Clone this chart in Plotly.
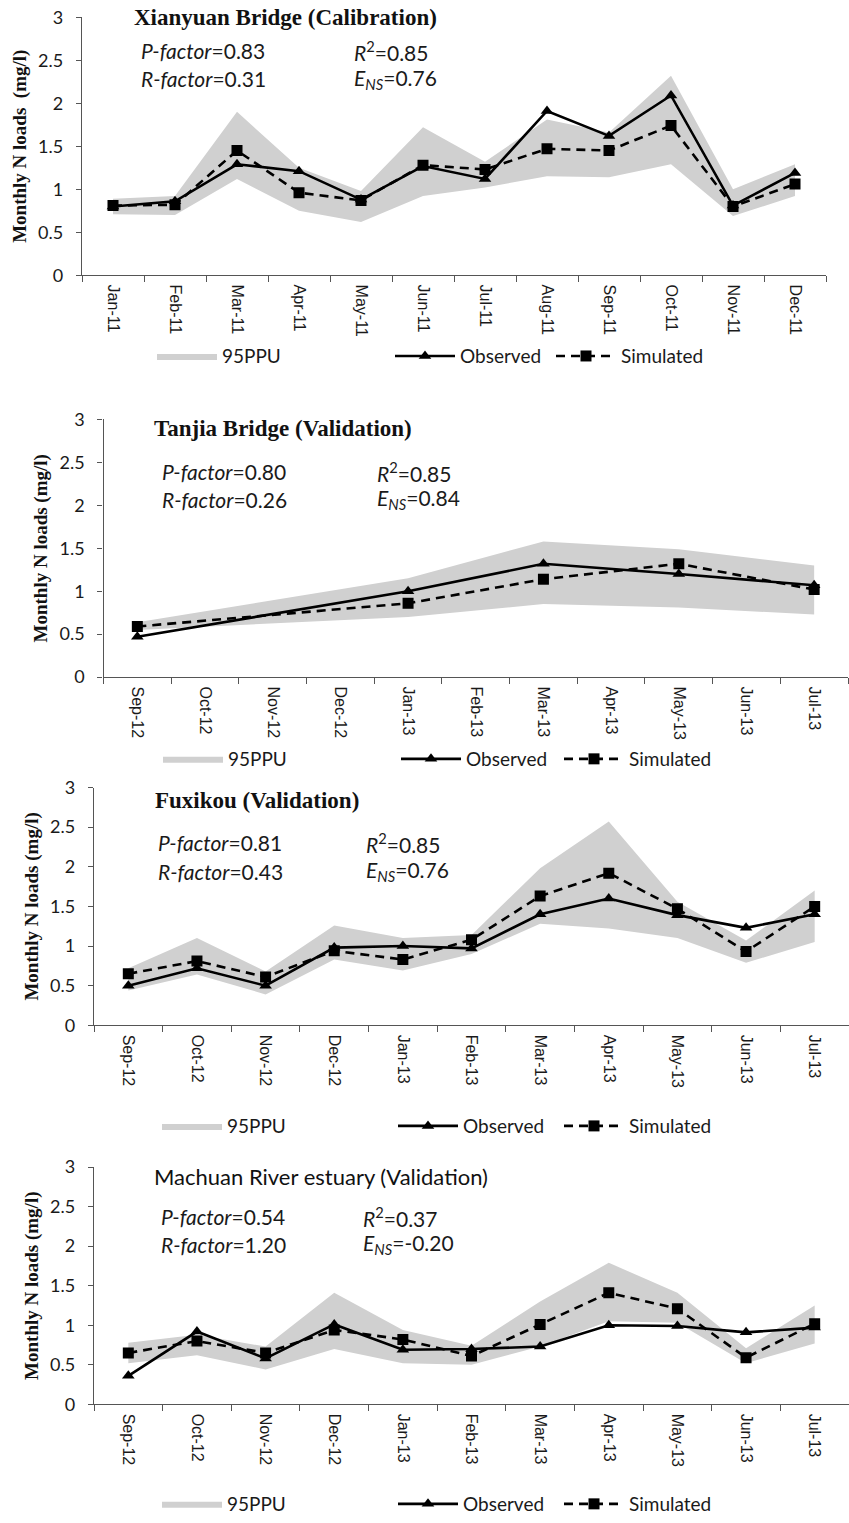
import plotly.graph_objects as go

# ---------------- data ----------------
months_2011 = ["Jan-11", "Feb-11", "Mar-11", "Apr-11", "May-11", "Jun-11",
               "Jul-11", "Aug-11", "Sep-11", "Oct-11", "Nov-11", "Dec-11"]
months_1213 = ["Sep-12", "Oct-12", "Nov-12", "Dec-12", "Jan-13", "Feb-13",
               "Mar-13", "Apr-13", "May-13", "Jun-13", "Jul-13"]

# Xianyuan Bridge (calibration)
xy_obs = [0.80, 0.86, 1.29, 1.21, 0.88, 1.27, 1.12, 1.91, 1.62, 2.09, 0.81, 1.19]
xy_sim = [0.81, 0.82, 1.45, 0.96, 0.87, 1.28, 1.23, 1.47, 1.45, 1.74, 0.80, 1.06]
xy_upper = [0.89, 0.92, 1.90, 1.25, 0.98, 1.72, 1.32, 1.81, 1.66, 2.32, 1.00, 1.29]
xy_lower = [0.71, 0.70, 1.12, 0.75, 0.62, 0.92, 1.02, 1.15, 1.14, 1.29, 0.69, 0.92]

# Tanjia Bridge (validation) - sampled every other month
tj_obs = [0.47, None, None, None, 1.00, None, 1.32, None, 1.20, None, 1.07]
tj_sim = [0.59, None, None, None, 0.86, None, 1.14, None, 1.32, None, 1.02]
tj_upper = [0.64, None, None, None, 1.15, None, 1.58, None, 1.49, None, 1.30]
tj_lower = [0.55, None, None, None, 0.70, None, 0.85, None, 0.81, None, 0.73]

# Fuxikou (validation)
fx_obs = [0.50, 0.72, 0.50, 0.98, 1.00, 0.97, 1.40, 1.60, 1.39, 1.23, 1.40]
fx_sim = [0.65, 0.81, 0.61, 0.94, 0.83, 1.08, 1.63, 1.92, 1.47, 0.93, 1.50]
fx_upper = [0.72, 1.10, 0.68, 1.26, 1.10, 1.14, 1.98, 2.57, 1.56, 1.07, 1.70]
fx_lower = [0.44, 0.64, 0.39, 0.83, 0.69, 0.90, 1.28, 1.22, 1.10, 0.79, 1.05]

# Machuan River estuary (validation)
mc_obs = [0.36, 0.92, 0.58, 1.01, 0.69, 0.70, 0.73, 1.00, 0.99, 0.91, 0.97]
mc_sim = [0.65, 0.80, 0.65, 0.94, 0.82, 0.61, 1.01, 1.41, 1.21, 0.59, 1.02]
mc_upper = [0.78, 0.88, 0.73, 1.41, 0.94, 0.74, 1.30, 1.79, 1.41, 0.71, 1.25]
mc_lower = [0.52, 0.62, 0.44, 0.70, 0.52, 0.50, 0.73, 1.05, 1.03, 0.52, 0.77]

titles = ["Xianyuan Bridge (Calibration)", "Tanjia Bridge (Validation)",
          "Fuxikou (Validation)", "Machuan River estuary (Validation)"]
p_factor = ["0.83", "0.80", "0.81", "0.54"]
r_factor = ["0.31", "0.26", "0.43", "1.20"]
r_squared = ["0.85", "0.85", "0.85", "0.37"]
e_ns = ["0.76", "0.84", "0.76", "-0.20"]

y_ticks = [0, 0.5, 1, 1.5, 2, 2.5, 3]

# ---------------- layout geometry (pixels) ----------------
W, H = 849, 1523
SERIF_TITLE = dict(family="Liberation Serif", size=23, color="#111")
panels = [
    dict(months=months_2011, obs=xy_obs, sim=xy_sim, up=xy_upper, lo=xy_lower,
         x0=82, x1=826, ytop=17.3, ybot=276.7, title_x=132, title_y=18,
         title_font=SERIF_TITLE,
         stat_x1=139, stat_x2=352, stat_y1=51, stat_y2=79, leg_y=358,
         leg_x=(152, 390, 551), ytitle="Monthly N loads\u00a0\u00a0(mg/l)"),
    dict(months=months_1213, obs=tj_obs, sim=tj_sim, up=tj_upper, lo=tj_lower,
         x0=103.5, x1=848, ytop=421.7, ybot=680.7, title_x=152, title_y=431,
         title_font=SERIF_TITLE,
         stat_x1=160, stat_x2=375, stat_y1=474, stat_y2=502, leg_y=763,
         leg_x=(158, 396, 559), ytitle="Monthly N loads (mg/l)"),
    dict(months=months_1213, obs=fx_obs, sim=fx_sim, up=fx_upper, lo=fx_lower,
         x0=94, x1=849, ytop=791.7, ybot=1030.7, title_x=153, title_y=805,
         title_font=SERIF_TITLE,
         stat_x1=156, stat_x2=364, stat_y1=847, stat_y2=876, leg_y=1132,
         leg_x=(157, 393, 559), ytitle="Monthly N loads (mg/l)"),
    dict(months=months_1213, obs=mc_obs, sim=mc_sim, up=mc_upper, lo=mc_lower,
         x0=94, x1=849, ytop=1173.3, ybot=1411.7, title_x=152, title_y=1183,
         title_font=dict(family="Lato", size=22, color="#111"),
         stat_x1=159, stat_x2=361, stat_y1=1223, stat_y2=1251, leg_y=1512,
         leg_x=(157, 393, 559), ytitle="Monthly N loads (mg/l)"),
]

BAND = "#d0d0d0"
AXIS = "#555555"
STAT_FONT = dict(family="Lato", size=21, color="#1a1a1a")
LEG_FONT = dict(family="Lato", size=19, color="#1a1a1a")


def px_x(v):
    return v / W


def px_y(v):
    return 1 - v / H


def present(months, values):
    xs, ys = [], []
    for m, v in zip(months, values):
        if v is not None:
            xs.append(m)
            ys.append(v)
    return xs, ys


fig = go.Figure()
layout = dict(
    width=W, height=H, margin=dict(l=0, r=0, t=0, b=0),
    paper_bgcolor="white", plot_bgcolor="white", showlegend=True,
)
annotations = []

for i, p in enumerate(panels):
    n = i + 1
    xa = "x" if n == 1 else f"x{n}"
    ya = "y" if n == 1 else f"y{n}"
    leg_ids = [f"legend{3 * i + k + 1}" if 3 * i + k > 0 else "legend" for k in range(3)]

    xs, lo = present(p["months"], p["lo"])
    _, up = present(p["months"], p["up"])
    fig.add_trace(go.Scatter(x=xs, y=lo, xaxis=xa, yaxis=ya, mode="lines",
                             line=dict(width=0, color=BAND), showlegend=False,
                             hoverinfo="skip"))
    fig.add_trace(go.Scatter(x=xs, y=up, xaxis=xa, yaxis=ya, mode="lines",
                             line=dict(width=0, color=BAND), fill="tonexty",
                             fillcolor=BAND, name="95PPU", legend=leg_ids[0]))
    xs_s, sim = present(p["months"], p["sim"])
    fig.add_trace(go.Scatter(x=xs_s, y=sim, xaxis=xa, yaxis=ya, mode="lines+markers",
                             line=dict(color="black", width=2.6, dash="9px,6px"),
                             marker=dict(symbol="square", size=11, color="black"),
                             name="Simulated", legend=leg_ids[2]))
    xs_o, obs = present(p["months"], p["obs"])
    fig.add_trace(go.Scatter(x=xs_o, y=obs, xaxis=xa, yaxis=ya, mode="lines+markers",
                             line=dict(color="black", width=2.6),
                             marker=dict(symbol="triangle-up", size=11, color="black"),
                             name="Observed", legend=leg_ids[1]))

    nm = len(p["months"])
    layout["xaxis" if n == 1 else f"xaxis{n}"] = dict(
        domain=[px_x(p["x0"]), px_x(p["x1"])], anchor=ya, type="category",
        categoryorder="array", categoryarray=p["months"], range=[-0.5, nm - 0.5],
        tickson="boundaries", ticks="outside", ticklen=6, tickwidth=1.2,
        tickcolor=AXIS, showline=True, linecolor=AXIS, linewidth=1.3,
        showgrid=False, zeroline=False, tickangle=90, ticklabelstandoff=5,
        tickfont=dict(family="Liberation Sans", size=16, color="#1a1a1a"),
        fixedrange=True,
    )
    layout["yaxis" if n == 1 else f"yaxis{n}"] = dict(
        domain=[px_y(p["ybot"]), px_y(p["ytop"])], anchor=xa, range=[0, 3],
        tickvals=y_ticks, ticktext=[f"{t:g}" for t in y_ticks],
        ticks="outside", ticklen=5, tickwidth=1.2, tickcolor=AXIS,
        showline=True, linecolor=AXIS, linewidth=1.3, showgrid=False,
        zeroline=False, ticklabelstandoff=9, automargin=False,
        tickfont=dict(family="Lato", size=18, color="#1a1a1a"),
        title=dict(text=f"<b>{p['ytitle']}</b>", standoff=6,
                   font=dict(family="Liberation Serif", size=19, color="#111")),
        fixedrange=True,
    )

    # legends: one entry each, placed along a row under the panel
    for k, lid in enumerate(leg_ids):
        layout[lid] = dict(
            x=px_x(p["leg_x"][k]), y=px_y(p["leg_y"]), xanchor="left",
            yanchor="middle", orientation="h", bgcolor="rgba(0,0,0,0)",
            font=LEG_FONT, itemwidth=60, borderwidth=0,
        )

    # panel title and fit statistics
    ttl = f"<b>{titles[i]}</b>" if i < 3 else titles[i]
    annotations.append(dict(text=ttl, x=px_x(p["title_x"]), y=px_y(p["title_y"]),
                            xref="paper", yref="paper", xanchor="left",
                            yanchor="middle", showarrow=False, font=p["title_font"]))
    stats = [
        (p["stat_x1"], p["stat_y1"], f"<i>P-factor</i>={p_factor[i]}"),
        (p["stat_x1"], p["stat_y2"], f"<i>R-factor</i>={r_factor[i]}"),
        (p["stat_x2"], p["stat_y1"], f"<i>R</i><sup>2</sup>={r_squared[i]}"),
        (p["stat_x2"], p["stat_y2"], f"<i>E<sub>NS</sub></i>={e_ns[i]}"),
    ]
    for sx, sy, txt in stats:
        annotations.append(dict(text=txt, x=px_x(sx), y=px_y(sy), xref="paper",
                                yref="paper", xanchor="left", yanchor="middle",
                                showarrow=False, font=STAT_FONT))

layout["annotations"] = annotations
fig.update_layout(**layout)
fig.write_html("out.html")
